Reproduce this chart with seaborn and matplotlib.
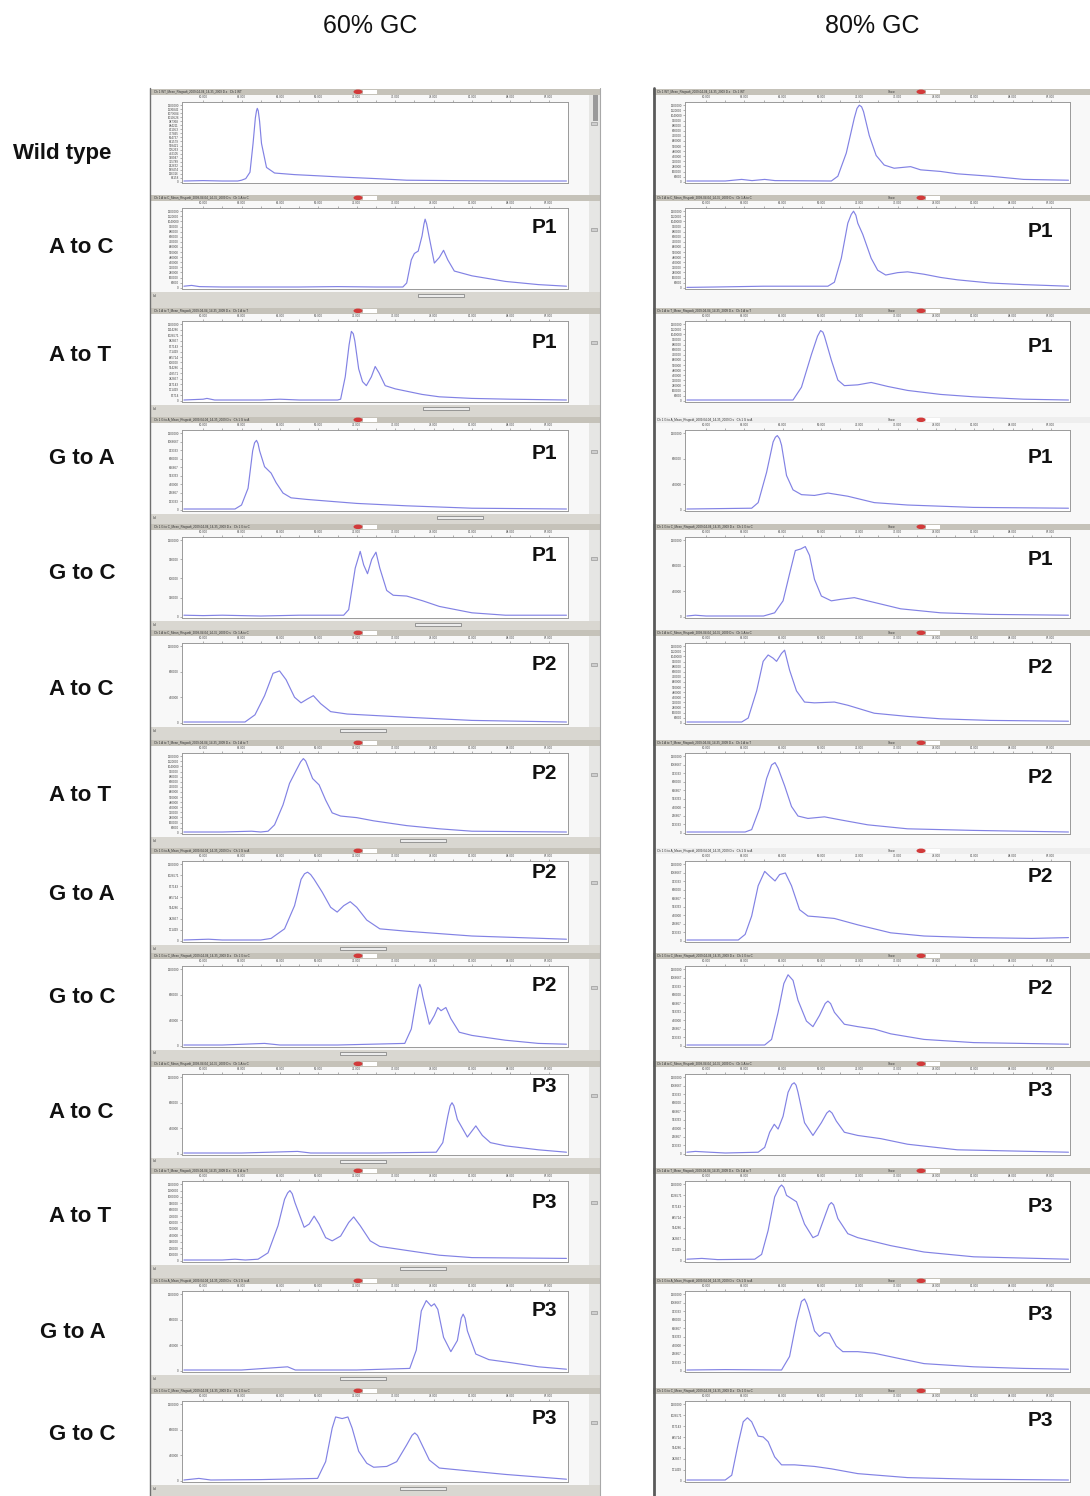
import numpy as np
import matplotlib
matplotlib.use("Agg")
import matplotlib.pyplot as plt
from matplotlib.patches import Rectangle, Ellipse
import seaborn as sns

# ---------------- data (x: position across trace window 0-100, y: signal 0-100) ----------------
column_titles = ["60% GC", "80% GC"]
row_labels = ["Wild type", "A to C", "A to T", "G to A", "G to C",
              "A to C", "A to T", "G to A", "G to C",
              "A to C", "A to T", "G to A", "G to C"]
primer_labels = [None, "P1", "P1", "P1", "P1", "P2", "P2", "P2", "P2", "P3", "P3", "P3", "P3"]

# 60% GC column
wt60_x = [0, 5, 10, 14, 15, 16.1, 17.2, 18, 18.6, 18.9, 19.1, 19.35, 19.7, 20.2, 21.5, 23.6, 28.8, 35, 40.8, 50, 58, 70, 85, 99.6]
wt60_y = [1, 1.5, 1, 1, 2, 4, 12, 48, 80, 89, 92, 89, 76, 48, 18, 11, 9, 7.5, 6, 4, 2, 1.5, 1, 1]
atc60_p1_x = [0, 2, 4, 10, 20, 30, 40, 50, 57, 58, 59.2, 60, 61, 62, 62.5, 62.8, 63.2, 63.8, 65.2, 66.5, 67.6, 68.7, 70.4, 75, 83.7, 92.3, 99.6]
atc60_p1_y = [2, 3, 1.5, 1, 1, 1, 1.5, 1, 1, 6, 35, 43, 46, 65, 80, 86, 80, 65, 31, 38, 47, 35, 21, 15, 8, 4, 2]
att60_p1_x = [0, 5, 6, 8, 20, 25, 30, 40, 40.8, 42, 43, 43.6, 44.1, 44.5, 45.5, 46.5, 47.5, 48.8, 49.8, 50.8, 52.4, 55, 58, 62, 66.5, 75, 85, 99.6]
att60_p1_y = [1, 2, 3, 1, 1, 2, 1, 1, 2, 30, 70, 87, 84, 75, 40, 24, 19, 30, 43, 35, 19, 15, 12, 8, 5, 3, 2, 1]
gta60_p1_x = [0, 10, 13.3, 15, 16.7, 17.9, 18.4, 18.9, 19.3, 19.7, 21, 22.7, 24, 25.8, 27.9, 32, 45, 58, 75, 99.6]
gta60_p1_y = [1, 1, 1, 6, 27, 74, 84, 87, 83, 74, 54, 46, 34, 21, 15, 13, 8, 5, 2, 1]
gtc60_p1_x = [0, 5, 10, 20, 30, 41.6, 42.9, 44.6, 45.9, 46.8, 47.8, 48.9, 50, 51, 52.8, 54.5, 58, 62.2, 66.5, 75, 83.7, 99.6]
gtc60_p1_y = [2, 1.5, 2, 1, 2, 2, 9, 61, 82, 65, 54, 72, 81, 61, 33, 27, 26, 20, 13, 5, 2, 2]
atc60_p2_x = [0, 10, 15.9, 18.5, 21, 23.2, 24.9, 26.6, 28.8, 30.5, 32.2, 33.7, 35.6, 38.2, 42.5, 58, 75, 99.6]
atc60_p2_y = [1, 1, 1, 10, 34, 62, 65, 54, 32, 25, 30, 34, 24, 14, 11, 7, 3, 1]
att60_p2_x = [0, 10, 17.6, 20, 21.9, 23.6, 25.8, 27.5, 29.2, 30.4, 31.1, 31.7, 32.2, 33.5, 35.2, 36.9, 38.6, 40.8, 45, 49.4, 58, 66.5, 75, 99.6]
att60_p2_y = [1, 1, 2, 1, 2, 10, 35, 62, 78, 89, 93, 90, 84, 68, 60, 41, 25, 21, 19, 15, 9, 5, 2, 1]
gta60_p2_x = [0, 6.4, 10, 20, 22.7, 26.2, 28.8, 30.5, 31.4, 32.2, 33, 33.9, 36, 38.2, 39.9, 41.6, 43.3, 45, 47.6, 51, 58, 75, 99.6]
gta60_p2_y = [1, 2, 1, 1, 3, 15, 44, 77, 84, 86, 83, 77, 61, 42, 36, 44, 49, 42, 26, 15, 12, 6, 2]
gtc60_p2_x = [0, 10, 21, 25, 40, 57.5, 59.2, 60.5, 61, 61.4, 61.8, 62.2, 63.9, 65.2, 66.1, 66.95, 68.2, 69.5, 71.7, 75, 83.7, 92.3, 99.6]
gtc60_p2_y = [1, 1, 3, 1, 1, 3, 21, 58, 72, 77, 72, 62, 27, 38, 48, 44, 48, 34, 17, 13, 7, 3, 2]
atc60_p3_x = [0, 15, 29.6, 33, 50, 65.7, 67.4, 68.7, 69.3, 69.8, 70.3, 71.2, 73.8, 76, 77.7, 79.8, 83.7, 92.3, 99.6]
atc60_p3_y = [1, 1, 3, 1, 1, 2, 14, 47, 60, 64, 60, 43, 21, 35, 23, 14, 10, 5, 2]
att60_p3_x = [0, 10, 13.3, 16, 19.3, 21.9, 24.5, 26.2, 27, 27.6, 28.2, 28.9, 31.3, 32.6, 33.9, 35.2, 36.9, 38.6, 40.8, 42.9, 44.2, 45.9, 48.5, 51, 58, 66.5, 75, 99.6]
att60_p3_y = [1, 1, 2, 1, 2, 10, 44, 77, 85, 88, 84, 73, 42, 46, 56, 46, 29, 25, 31, 48, 55, 44, 25, 18, 13, 7, 4, 3]
gta60_p3_x = [0, 15, 27, 29, 45, 58.8, 60.5, 61.8, 63.1, 64.4, 65.2, 66.1, 67.6, 69.5, 71.2, 72.2, 72.7, 73.2, 73.8, 76, 79.4, 85.4, 92.3, 99.6]
gta60_p3_y = [1, 1, 5, 1, 1, 3, 26, 75, 88, 81, 84, 77, 42, 24, 38, 66, 71, 66, 50, 21, 14, 10, 5, 2]
gtc60_p3_x = [0, 3.9, 7, 20, 34.8, 36.9, 38.6, 39.5, 41.2, 42.7, 43.8, 45.5, 47.6, 49.4, 52.8, 55.4, 58, 59.4, 60.1, 60.8, 61.8, 63.9, 66.5, 75, 83.7, 99.6]
gtc60_p3_y = [1, 3, 1, 1.5, 3, 24, 66, 80, 78, 80, 66, 37, 22, 17, 18, 24, 45, 57, 60, 57, 47, 26, 16, 12, 8, 2]

# 80% GC column
wt80_x = [0, 10, 14.3, 17, 20.3, 23, 37.7, 39.4, 41.6, 43.7, 44.4, 45, 45.6, 46.1, 47.6, 49.4, 51.5, 54.1, 58.4, 61, 66.2, 70.6, 79.2, 87.9, 99.6]
wt80_y = [1, 1, 3, 1.5, 3, 1.5, 1, 7, 36, 80, 92, 96, 94, 88, 58, 33, 21, 17, 19, 15, 13, 10, 7, 3, 2]
atc80_p1_x = [0, 7.4, 20, 36.8, 38.5, 40.3, 42, 42.9, 43.5, 44.1, 44.6, 45.9, 48.1, 49.8, 51.9, 55, 57.6, 61.9, 66.2, 70.6, 79.2, 87.9, 99.6]
atc80_p1_y = [0.5, 1, 2, 2, 7, 37, 81, 92, 96, 91, 81, 67, 37, 22, 16, 19, 20, 17, 13, 10, 6, 4, 2]
att80_p1_x = [0, 15, 27.7, 29.9, 32.5, 34.1, 34.9, 35.5, 35.9, 37.7, 39.4, 41.1, 44.6, 48.1, 52.4, 57.6, 66.2, 74.9, 87.9, 99.6]
att80_p1_y = [1, 1, 1, 17, 58, 81, 88, 86, 81, 51, 26, 19, 20, 23, 18, 13, 8, 5, 2, 1]
gta80_p1_x = [0, 16.9, 18.6, 20.8, 22.5, 23.1, 23.6, 24.2, 24.7, 26, 27.7, 29.9, 33.3, 36.8, 42, 48.9, 57.6, 74.9, 99.6]
gta80_p1_y = [1, 2, 9, 47, 85, 91, 93, 89, 81, 43, 25, 19, 18, 21, 17, 9, 6, 3, 2]
gtc80_p1_x = [0, 2.2, 5, 20, 22.9, 25.1, 26.8, 28.3, 29.7, 30.9, 32, 33.3, 35.1, 37.7, 40.3, 43.7, 48.9, 55.8, 66.2, 79.2, 99.6]
gtc80_p1_y = [1, 2, 1, 1, 5, 20, 54, 83, 85, 88, 77, 47, 26, 20, 22, 24, 18, 10, 5, 3, 2]
atc80_p2_x = [0, 14.3, 16, 18.2, 19.9, 21.2, 22.5, 23.4, 24.7, 25.5, 26.8, 28.6, 30.7, 33.3, 38.5, 42, 48.9, 57.6, 66.2, 79.2, 99.6]
atc80_p2_y = [1, 1, 6, 40, 77, 85, 81, 77, 87, 91, 66, 40, 26, 25, 26, 22, 12, 8, 5, 3, 2]
att80_p2_x = [0, 15.2, 16.9, 19, 20.8, 22.1, 23, 23.8, 25.5, 27.3, 29, 31.6, 35.9, 40.3, 47.2, 57.6, 74.9, 99.6]
att80_p2_y = [1, 1, 4, 31, 68, 85, 88, 81, 59, 33, 21, 18, 20, 16, 10, 5, 3, 1]
gta80_p2_x = [0, 13.4, 15.2, 16.9, 18.6, 20.3, 21.6, 23, 24.2, 25.7, 27.3, 29.4, 31.6, 34.2, 38.5, 44.6, 53.2, 61.9, 74.9, 90, 99.6]
gta80_p2_y = [1, 1, 8, 31, 69, 87, 81, 75, 83, 85, 69, 39, 31, 30, 28, 20, 10, 6, 4, 3, 4]
gtc80_p2_x = [0, 20.3, 22.1, 23.8, 25.3, 26.4, 27.7, 29, 31.2, 32.9, 34.6, 36.1, 36.8, 37.5, 38.5, 41.1, 44.6, 48.9, 53.2, 61.9, 74.9, 99.6]
gtc80_p2_y = [1, 1, 8, 42, 78, 89, 82, 57, 31, 24, 38, 53, 56, 53, 42, 27, 24, 21, 15, 8, 4, 2]
atc80_p3_x = [0, 2.2, 6, 10, 18.6, 20.3, 21.6, 22.8, 23.8, 25.1, 26.4, 27.4, 28, 28.5, 29, 30.7, 32.9, 35.1, 36.5, 37.2, 37.9, 39, 41.1, 44.6, 50.6, 57.6, 70.6, 99.6]
atc80_p3_y = [2, 3, 2, 1, 2, 8, 27, 37, 31, 47, 77, 87, 89, 86, 77, 39, 23, 39, 51, 54, 51, 41, 27, 23, 19, 12, 5, 2]
att80_p3_x = [0, 3.9, 8, 17.7, 19.5, 21.2, 22.9, 24.1, 24.7, 25.3, 26, 27.3, 28.6, 30.7, 32.9, 34.2, 36.4, 37.1, 37.7, 38.3, 39.4, 42, 44.6, 48.9, 53.2, 61.9, 74.9, 99.6]
att80_p3_y = [2, 3, 1.5, 2, 8, 38, 80, 92, 95, 92, 82, 78, 74, 46, 29, 32, 61, 70, 73, 70, 53, 34, 29, 24, 19, 11, 5, 2]
gta80_p3_x = [0, 10, 24.7, 26.8, 28.6, 29.9, 30.7, 31.3, 32, 33.3, 34.6, 35.9, 37.2, 39, 40.7, 44.6, 48.9, 55.8, 61.9, 74.9, 87.9, 99.6]
gta80_p3_y = [1, 1.5, 1, 18, 62, 87, 90, 84, 73, 50, 43, 48, 47, 31, 24, 24, 22, 15, 9, 5, 3, 2]
gtc80_p3_x = [0, 10, 11.7, 13.4, 14.7, 15.8, 16.9, 18.6, 19.9, 21.2, 22.9, 24.7, 28.1, 33.3, 37.7, 44.6, 57.6, 74.9, 99.6]
gtc80_p3_y = [1, 1, 7, 47, 74, 79, 74, 56, 55, 49, 30, 20, 20, 18, 15, 9, 4, 2, 1]

traces_60 = [(wt60_x, wt60_y), (atc60_p1_x, atc60_p1_y), (att60_p1_x, att60_p1_y), (gta60_p1_x, gta60_p1_y),
             (gtc60_p1_x, gtc60_p1_y), (atc60_p2_x, atc60_p2_y), (att60_p2_x, att60_p2_y), (gta60_p2_x, gta60_p2_y),
             (gtc60_p2_x, gtc60_p2_y), (atc60_p3_x, atc60_p3_y), (att60_p3_x, att60_p3_y), (gta60_p3_x, gta60_p3_y),
             (gtc60_p3_x, gtc60_p3_y)]
traces_80 = [(wt80_x, wt80_y), (atc80_p1_x, atc80_p1_y), (att80_p1_x, att80_p1_y), (gta80_p1_x, gta80_p1_y),
             (gtc80_p1_x, gtc80_p1_y), (atc80_p2_x, atc80_p2_y), (att80_p2_x, att80_p2_y), (gta80_p2_x, gta80_p2_y),
             (gtc80_p2_x, gtc80_p2_y), (atc80_p3_x, atc80_p3_y), (att80_p3_x, att80_p3_y), (gta80_p3_x, gta80_p3_y),
             (gtc80_p3_x, gtc80_p3_y)]

# ---------------- layout (pixels) ----------------
W, H = 1090, 1496
ROW_TOPS = [89, 195, 308, 417, 524, 630, 740, 848, 953, 1061, 1168, 1278, 1388]
LABEL_X = [13, 49, 49, 49, 49, 49, 49, 49, 49, 49, 49, 40, 49]
LABEL_Y = [153, 247, 355, 458, 573, 689, 795, 894, 997, 1113, 1217, 1332, 1434]
P_Y_LEFT = [None, 227, 342, 453, 555, 664, 773, 872, 985, 1087, 1202, 1311, 1418]
P_Y_RIGHT = [None, 231, 346, 457, 559, 667, 777, 876, 988, 1091, 1207, 1314, 1421]
THUMB_X = [None, 418, 423, 437, 415, 340, 400, 340, 340, 340, 400, 340, 400]
YTICK_N_LEFT = [20, 16, 15, 10, 5, 4, 16, 8, 4, 4, 13, 4, 4]
YTICK_N_RIGHT = [16, 16, 16, 4, 4, 16, 10, 10, 10, 10, 8, 10, 8]
COLS = [dict(frame=(150, 600), box=(182, 568), red=358, p_right=557, p_y=P_Y_LEFT, nt=YTICK_N_LEFT),
        dict(frame=(653, 1090), box=(685, 1070), red=921, p_right=1053, p_y=P_Y_RIGHT, nt=YTICK_N_RIGHT)]

LINE_COLOR = "#8282e4"

sns.set_style("white")
plt.rcParams["font.family"] = ["Liberation Sans", "DejaVu Sans"]

fig = plt.figure(figsize=(W / 100, H / 100), dpi=100)


def rect(x0, y0, x1, y1):
    return [x0 / W, 1 - y1 / H, (x1 - x0) / W, (y1 - y0) / H]


bg = fig.add_axes([0, 0, 1, 1], zorder=0)
bg.set_xlim(0, W)
bg.set_ylim(H, 0)
bg.axis("off")

over = fig.add_axes([0, 0, 1, 1], zorder=5)
over.set_xlim(0, W)
over.set_ylim(H, 0)
over.axis("off")
over.patch.set_alpha(0)

# column titles
over.text(370, 26, column_titles[0], ha="center", va="center", fontsize=18, color="#111111")
over.text(872, 26, column_titles[1], ha="center", va="center", fontsize=18, color="#111111")

for i in range(13):
    T = ROW_TOPS[i]
    Tn = ROW_TOPS[i + 1] if i < 12 else H
    over.text(LABEL_X[i], LABEL_Y[i], row_labels[i], ha="left", va="center",
              fontsize=16, fontweight="bold", color="#111111")
    for c, col in enumerate(COLS):
        fx0, fx1 = col["frame"]
        bx0, bx1 = col["box"]
        # window chrome
        bg.add_patch(Rectangle((fx0, T), fx1 - fx0, Tn - T, facecolor="#f8f8f8", edgecolor="none"))
        bar_col = "#c5c2b9"
        if c == 1 and i in (3, 7):
            bar_col = "#eeeeee"
        bg.add_patch(Rectangle((fx0, T), fx1 - fx0, 5.5, facecolor=bar_col, edgecolor="none"))
        name = row_labels[i] if i else "WT"
        bg.text(fx0 + 4, T + 2.8, f"Ch 1 {name}_Mean_Rtsgwdt_2009-04-04_14-35_2009 D.s   Ch 1 {name}",
                fontsize=2.2, color="#333333", va="center", ha="left")
        if c == 1:
            bg.text(fx0 + 235, T + 2.8, "Show", fontsize=2.2, color="#333333", va="center")
        bg.add_patch(Ellipse((col["red"], T + 2.8), 9, 4.5, facecolor="#d23a3a", edgecolor="none"))
        bg.add_patch(Rectangle((col["red"] + 5, T + 0.6), 14, 4.2, facecolor="white", edgecolor="none"))
        if c == 0:
            # right scroll strip
            bg.add_patch(Rectangle((589, T + 5.5), 11, Tn - T - 5.5, facecolor="#e6e6e4", edgecolor="none"))
            bg.add_patch(Rectangle((591, T + 33), 6, 3, facecolor="#cfcfcf", edgecolor="#888888", lw=0.4))
            if THUMB_X[i] is not None:
                bg.add_patch(Rectangle((fx0, T + 97), fx1 - fx0, Tn - T - 97, facecolor="#d9d7d1", edgecolor="none"))
                bg.add_patch(Rectangle((THUMB_X[i], T + 99), 46, 3.2, facecolor="#ececec",
                                       edgecolor="#777777", lw=0.5))
                bg.text(fx0 + 3, T + 100.5, "ld", fontsize=2.5, color="#444444", va="center")
            else:
                bg.add_patch(Rectangle((593, T + 6), 5, 26, facecolor="#9a9a9a", edgecolor="none"))

        # trace axes
        ax = fig.add_axes(rect(bx0, T + 13, bx1, T + 94), zorder=2)
        xs, ys = (traces_60 if c == 0 else traces_80)[i]
        sns.lineplot(x=xs, y=ys, ax=ax, color=LINE_COLOR, linewidth=0.85, estimator=None, sort=False)
        for ln in ax.lines:
            ln.set_solid_joinstyle("round")
            ln.set_solid_capstyle("round")
        ax.set_xlim(-0.5, 100)
        ax.set_ylim(-1.5, 100)
        ax.set_facecolor("white")
        for sp in ax.spines.values():
            sp.set_color("#9a9a9a")
            sp.set_linewidth(0.7)
        nt = col["nt"][i]
        yt = np.linspace(0, 96, nt)
        ax.set_yticks(yt)
        ax.set_yticklabels([f"{int(round(v * 12500))}" for v in yt])
        ax.set_xticks(np.arange(5, 100, 10))
        ax.set_xticklabels([f"{60 + k * 3}.000" for k in range(10)])
        ax.set_xticks(np.arange(10, 100, 10), minor=True)
        ax.xaxis.tick_top()
        ax.tick_params(axis="x", which="both", top=True, bottom=False, labeltop=True, labelbottom=False,
                       labelsize=2.2, pad=0.6, length=1.6, width=0.4, color="#777777", labelcolor="#444444")
        ax.tick_params(axis="y", left=True, labelsize=2.2, pad=0.6, length=1.6, width=0.4,
                       color="#777777", labelcolor="#444444")
        ax.set_xlabel("")
        ax.set_ylabel("")
        if primer_labels[i]:
            over.text(col["p_right"], col["p_y"][i], primer_labels[i], ha="right", va="center",
                      fontsize=15, fontweight="bold", color="#111111")

# frame edges
bg.plot([150, 150], [88, H], color="#6f6f6f", lw=1.0)
bg.plot([600, 600], [88, H], color="#a8a8a8", lw=0.8)
bg.plot([654, 654], [88, H], color="#5a5a5a", lw=2.0)

fig.savefig("out.png", dpi=100)
